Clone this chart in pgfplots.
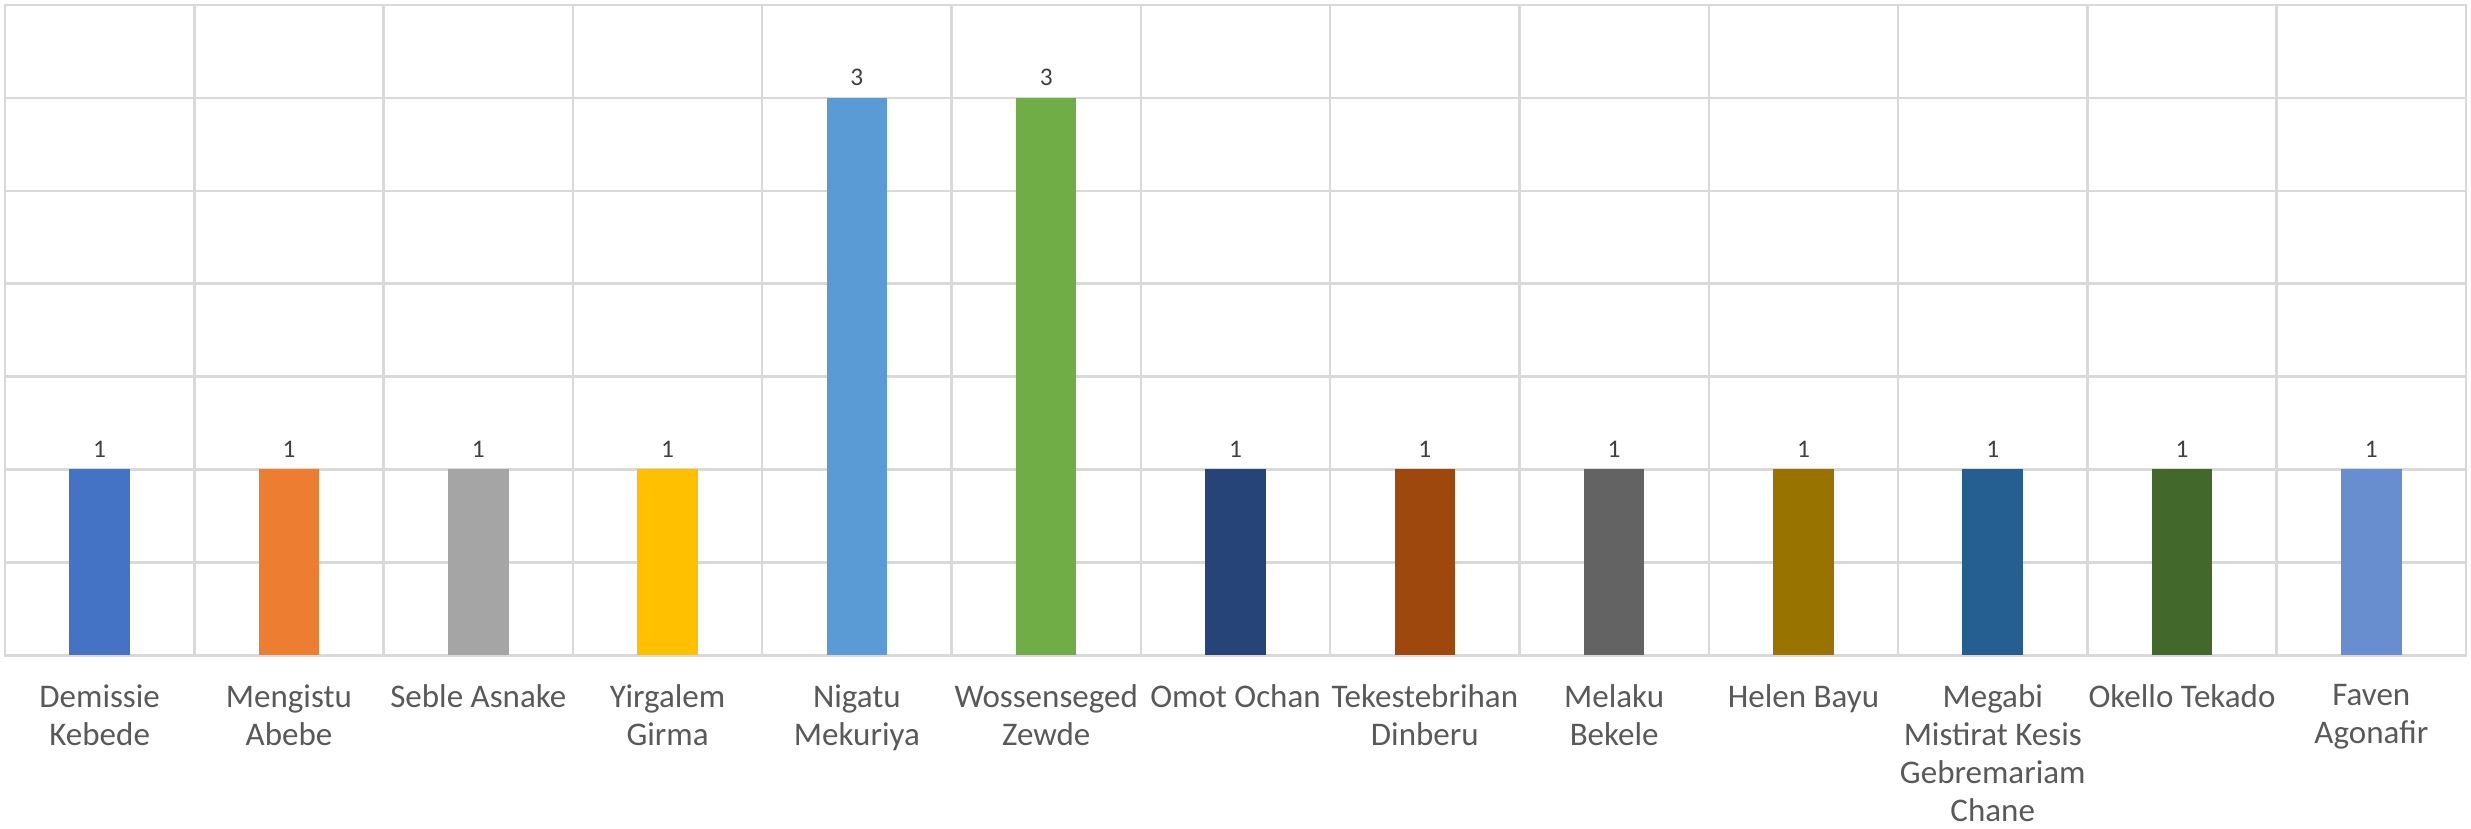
\documentclass[border=0pt]{standalone}
\usepackage{pgfplots}
\pgfplotsset{compat=1.18}
\usepackage{fontspec}
\setmainfont{Carlito}
\definecolor{c1}{HTML}{4472C4}
\definecolor{c2}{HTML}{ED7D31}
\definecolor{c3}{HTML}{A5A5A5}
\definecolor{c4}{HTML}{FFC000}
\definecolor{c5}{HTML}{5B9BD5}
\definecolor{c6}{HTML}{70AD47}
\definecolor{c7}{HTML}{264478}
\definecolor{c8}{HTML}{9E480E}
\definecolor{c9}{HTML}{636363}
\definecolor{c10}{HTML}{997300}
\definecolor{c11}{HTML}{255E91}
\definecolor{c12}{HTML}{43682B}
\definecolor{c13}{HTML}{698ED0}
\definecolor{gridc}{HTML}{D9D9D9}
\definecolor{labc}{HTML}{595959}
\definecolor{datc}{HTML}{404040}
\begin{document}
\begin{tikzpicture}
\begin{axis}[
  scale only axis,
  width=738pt, height=195pt,
  ybar, bar width=0.32, bar shift=0pt,
  xmin=-0.5, xmax=12.5, ymin=0, ymax=3.5,
  /pgf/number format/assume math mode=true,
  xtick={0,...,12},
  xticklabels={{Demissie\\Kebede},{Mengistu\\Abebe},{Seble Asnake},{Yirgalem\\Girma},{Nigatu\\Mekuriya},{Wossenseged\\Zewde},{Omot Ochan},{Tekestebrihan\\Dinberu},{Melaku\\Bekele},{Helen Bayu},{Megabi\\Mistirat Kesis\\Gebremariam\\Chane},{Okello Tekado},{Faven\\Agonafir}},
  xticklabel style={align=center, font=\fontsize{9.9}{11.4}\selectfont, text=labc, yshift=-1pt},
  major x tick style={draw=none},
  minor xtick={-0.5,0.5,...,12.5},
  minor x tick style={draw=none},
  xminorgrids,
  ytick={0,0.5,...,3.5},
  yticklabels={},
  major y tick style={draw=none},
  ymajorgrids,
  grid style={gridc, line width=0.75pt},
  minor grid style={gridc, line width=0.75pt},
  axis line style={gridc, line width=0.75pt},
  nodes near coords,
  nodes near coords style={font=\fontsize{7.6}{9}\selectfont, text=datc},
  every axis plot/.append style={draw=none},
]
\addplot[fill=c1] coordinates {(0,1)};
\addplot[fill=c2] coordinates {(1,1)};
\addplot[fill=c3] coordinates {(2,1)};
\addplot[fill=c4] coordinates {(3,1)};
\addplot[fill=c5] coordinates {(4,3)};
\addplot[fill=c6] coordinates {(5,3)};
\addplot[fill=c7] coordinates {(6,1)};
\addplot[fill=c8] coordinates {(7,1)};
\addplot[fill=c9] coordinates {(8,1)};
\addplot[fill=c10] coordinates {(9,1)};
\addplot[fill=c11] coordinates {(10,1)};
\addplot[fill=c12] coordinates {(11,1)};
\addplot[fill=c13] coordinates {(12,1)};
\end{axis}
\pgfresetboundingbox
\path (-1.5pt,-52pt) rectangle (739.5pt,196.5pt);
\end{tikzpicture}
\end{document}
